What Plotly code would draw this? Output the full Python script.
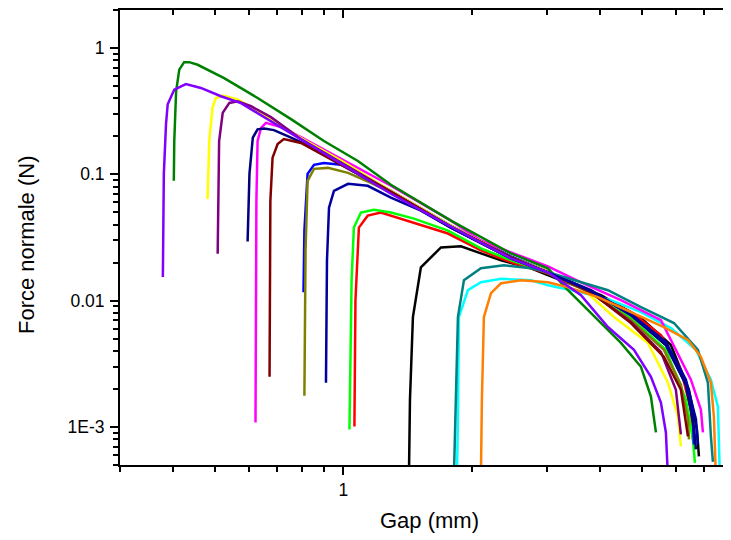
import math
import plotly.graph_objects as go

# ---- data (gap in mm, normal force in N) ----
black_gap = [1.425, 1.433, 1.456, 1.520, 1.694, 1.886, 2.101, 2.341, 2.752, 3.235, 4.014, 4.980, 5.853, 6.452, 6.734, 6.808]
black_force = [0.0004, 0.00165, 0.00742, 0.01836, 0.02638, 0.0269, 0.02366, 0.02084, 0.01803, 0.0145, 0.01105, 0.00728, 0.00446, 0.00197, 0.000956, 0.000586]

red_gap = [1.062, 1.068, 1.088, 1.141, 1.225, 1.464, 1.759, 2.101, 2.511, 3.016, 3.804, 4.718, 5.546, 6.177, 6.520, 6.592]
red_force = [0.00101, 0.01009, 0.0379, 0.0471, 0.0498, 0.0415, 0.0340, 0.02498, 0.01974, 0.01646, 0.01167, 0.00812, 0.00535, 0.00284, 0.00137, 0.000797]

lime_gap = [1.034, 1.042, 1.046, 1.059, 1.100, 1.180, 1.293, 1.464, 1.759, 2.101, 2.511, 3.016, 3.804, 4.718, 5.697, 6.347, 6.592, 6.663]
lime_force = [0.000956, 0.00408, 0.0145, 0.0379, 0.0498, 0.0525, 0.0498, 0.0446, 0.0359, 0.0259, 0.02046, 0.01677, 0.01167, 0.00728, 0.00408, 0.00165, 0.000797, 0.00052]

blue_gap = [0.807, 0.811, 0.825, 0.854, 0.901, 1.0, 1.293, 1.787, 2.470, 3.016, 3.804, 4.718, 5.697, 6.347, 6.592, 6.626]
blue_force = [0.01167, 0.0359, 0.1009, 0.1188, 0.1232, 0.1188, 0.0741, 0.0393, 0.0224, 0.01707, 0.01188, 0.00769, 0.00446, 0.00216, 0.00115, 0.000728]

cyan_gap = [1.846, 1.856, 1.866, 1.959, 2.101, 2.341, 2.752, 3.016, 3.604, 4.236, 4.980, 5.853, 6.699, 7.262, 7.542, 7.582, 7.623]
cyan_force = [0.0004, 0.00115, 0.00742, 0.0121, 0.01398, 0.0149, 0.0145, 0.01324, 0.01167, 0.01009, 0.00812, 0.00607, 0.00408, 0.00237, 0.00145, 0.000797, 0.0004]

magenta_gap = [0.623, 0.626, 0.630, 0.642, 0.659, 0.715, 0.796, 1.0, 1.293, 1.787, 2.101, 2.470, 3.016, 3.604, 4.470, 5.546, 6.520, 6.881, 6.956]
magenta_force = [0.001085, 0.0618, 0.1835, 0.2336, 0.2558, 0.2366, 0.1974, 0.130, 0.0812, 0.0430, 0.02996, 0.0241, 0.0187, 0.01398, 0.01009, 0.00702, 0.00237, 0.00137, 0.000905]

yellow_gap = [0.481, 0.4855, 0.494, 0.503, 0.522, 0.566, 0.642, 0.796, 1.0, 1.293, 1.787, 2.470, 3.016, 3.604, 4.305, 5.171, 5.760, 6.078, 6.177]
yellow_force = [0.0638, 0.1835, 0.336, 0.402, 0.420, 0.391, 0.305, 0.194, 0.1254, 0.0741, 0.0393, 0.0220, 0.01707, 0.01277, 0.00742, 0.00463, 0.00224, 0.00121, 0.000702]

darkyellow_gap = [0.811, 0.816, 0.825, 0.854, 0.921, 1.026, 1.161, 1.293, 1.787, 2.470, 3.016, 3.804, 4.718, 5.636, 6.177, 6.417, 6.452]
darkyellow_force = [0.00177, 0.02498, 0.0889, 0.1105, 0.1125, 0.1027, 0.0857, 0.0715, 0.0379, 0.0216, 0.01646, 0.01146, 0.00702, 0.00408, 0.00216, 0.00115, 0.000797]

navy_gap = [0.597, 0.603, 0.614, 0.630, 0.653, 0.688, 0.741, 0.796, 1.0, 1.293, 1.787, 2.470, 3.016, 3.804, 4.718, 5.697, 6.347, 6.626, 6.699]
navy_force = [0.0294, 0.1009, 0.195, 0.227, 0.231, 0.224, 0.201, 0.180, 0.1166, 0.0715, 0.0379, 0.0216, 0.01677, 0.01210, 0.00769, 0.00446, 0.00216, 0.00101, 0.000665]

purple_gap = [0.508, 0.512, 0.522, 0.541, 0.566, 0.608, 0.677, 0.796, 1.0, 1.293, 1.787, 2.470, 3.016, 3.804, 4.718, 5.546, 6.012, 6.177]
purple_force = [0.02353, 0.1835, 0.3066, 0.3676, 0.379, 0.346, 0.2837, 0.1904, 0.121, 0.0728, 0.0386, 0.0220, 0.01677, 0.01167, 0.00677, 0.00393, 0.00197, 0.000873]

wine_gap = [0.672, 0.675, 0.683, 0.702, 0.726, 0.766, 0.796, 1.0, 1.293, 1.787, 2.470, 3.016, 3.804, 4.718, 5.636, 6.177, 6.417]
wine_force = [0.0025, 0.0618, 0.1356, 0.1739, 0.1904, 0.1835, 0.177, 0.1166, 0.0728, 0.0386, 0.0220, 0.01677, 0.01167, 0.00665, 0.00359, 0.00197, 0.000842]

olive_gap = [0.401, 0.402, 0.406, 0.413, 0.424, 0.436, 0.456, 0.526, 0.630, 0.7544, 0.901, 1.082, 1.293, 1.787, 2.470, 3.016, 3.359, 3.950, 4.470, 4.980, 5.255, 5.399]
olive_force = [0.0889, 0.1835, 0.454, 0.674, 0.773, 0.773, 0.737, 0.578, 0.402, 0.2735, 0.1835, 0.1277, 0.0827, 0.0430, 0.02366, 0.01803, 0.0121, 0.00702, 0.00463, 0.002996, 0.001739, 0.000905]

darkcyan_gap = [1.816, 1.836, 1.856, 1.917, 2.101, 2.379, 2.752, 3.016, 3.604, 4.168, 4.980, 5.950, 6.771, 7.146, 7.262, 7.341]
darkcyan_force = [0.0004, 0.00165, 0.00742, 0.0145, 0.01803, 0.01904, 0.01803, 0.01677, 0.01398, 0.0121, 0.00889, 0.00665, 0.00408, 0.00224, 0.000842, 0.00053]

royal_gap = [0.911, 0.916, 0.926, 0.951, 1.026, 1.141, 1.293, 1.520, 1.787, 2.470, 3.016, 3.804, 4.718, 5.697, 6.347, 6.699, 6.771]
royal_force = [0.00224, 0.02084, 0.0545, 0.0741, 0.0842, 0.0812, 0.0653, 0.0516, 0.0379, 0.0216, 0.01677, 0.01188, 0.00783, 0.00471, 0.00237, 0.00115, 0.000728]

orange_gap = [2.101, 2.112, 2.135, 2.218, 2.341, 2.608, 3.016, 3.359, 3.950, 4.796, 5.636, 6.417, 6.881, 7.262, 7.380, 7.460]
orange_force = [0.0004, 0.00165, 0.00742, 0.01146, 0.01373, 0.0145, 0.01398, 0.01277, 0.01066, 0.00797, 0.00618, 0.00489, 0.00359, 0.00224, 0.00121, 0.0004]

violet_gap = [0.378, 0.380, 0.3845, 0.388, 0.402, 0.428, 0.464, 0.517, 0.576, 0.688, 0.827, 0.988, 1.293, 1.787, 2.470, 3.016, 3.604, 4.168, 4.796, 5.255, 5.546, 5.697, 5.760]
violet_force = [0.01539, 0.1009, 0.2497, 0.359, 0.469, 0.519, 0.483, 0.415, 0.366, 0.2543, 0.177, 0.121, 0.0702, 0.0386, 0.0216, 0.01677, 0.01105, 0.00618, 0.00408, 0.0025, 0.00156, 0.000905, 0.0004]

x_major_ticks = [1]
x_major_text = ["1"]
x_minor_ticks = [0.3, 0.4, 0.5, 0.6, 0.7, 0.8, 0.9, 2, 3, 4, 5, 6, 7, 8, 9]
y_major_ticks = [0.001, 0.01, 0.1, 1]
y_major_text = ["1E-3", "0.01", "0.1", "1"]
y_minor_ticks = [m * d for d in (0.0001, 0.001, 0.01, 0.1, 1) for m in range(2, 10)]

x_range = [0.3, 8.27]
y_range = [5e-4, 2]

series = [
    (black_gap, black_force, "#000000"),
    (red_gap, red_force, "#FF0000"),
    (lime_gap, lime_force, "#00FF00"),
    (blue_gap, blue_force, "#0000FF"),
    (cyan_gap, cyan_force, "#00FFFF"),
    (magenta_gap, magenta_force, "#FF00FF"),
    (yellow_gap, yellow_force, "#FFFF00"),
    (darkyellow_gap, darkyellow_force, "#808000"),
    (navy_gap, navy_force, "#000080"),
    (purple_gap, purple_force, "#800080"),
    (wine_gap, wine_force, "#800000"),
    (olive_gap, olive_force, "#008000"),
    (darkcyan_gap, darkcyan_force, "#008080"),
    (royal_gap, royal_force, "#0000A0"),
    (orange_gap, orange_force, "#FF8000"),
    (violet_gap, violet_force, "#8000FF"),
]

xr = [math.log10(v) for v in x_range]
yr = [math.log10(v) for v in y_range]

fig = go.Figure()
for gx, fy, col in series:
    fig.add_trace(go.Scatter(x=gx, y=fy, mode="lines",
                             line=dict(color=col, width=2.5),
                             showlegend=False, hoverinfo="skip"))

# invisible trace to bind the mirror axes
fig.add_trace(go.Scatter(x=[1], y=[0.01], xaxis="x2", yaxis="y2", mode="markers",
                         marker=dict(opacity=0), showlegend=False, hoverinfo="skip"))

FONT = "Liberation Sans, Arial, sans-serif"

fig.update_layout(
    width=731, height=540,
    margin=dict(l=112, r=4, t=0, b=83),
    paper_bgcolor="white", plot_bgcolor="white",
    font=dict(family=FONT, color="black"),
    xaxis=dict(type="log", range=xr, autorange=False,
               showgrid=False, zeroline=False,
               showline=True, linecolor="black", linewidth=2, mirror=True,
               ticks="outside", ticklen=8, tickwidth=2, tickcolor="black",
               tickmode="array", tickvals=x_major_ticks, ticktext=x_major_text,
               tickfont=dict(size=17.5, family=FONT, color="black"),
               ticklabelstandoff=0,
               minor=dict(tickmode="array", tickvals=x_minor_ticks, ticks="outside",
                          ticklen=5, tickwidth=2, tickcolor="black", showgrid=False)),
    yaxis=dict(type="log", range=yr, autorange=False,
               showgrid=False, zeroline=False,
               showline=True, linecolor="black", linewidth=2, mirror=True,
               ticks="outside", ticklen=8, tickwidth=2, tickcolor="black",
               tickmode="array", tickvals=y_major_ticks, ticktext=y_major_text,
               tickfont=dict(size=17.5, family=FONT, color="black"),
               ticklabelstandoff=2,
               minor=dict(tickmode="array", tickvals=y_minor_ticks, ticks="outside",
                          ticklen=5, tickwidth=2, tickcolor="black", showgrid=False)),
    xaxis2=dict(type="log", range=xr, autorange=False, overlaying="x", side="top",
                showgrid=False, zeroline=False, showline=False, showticklabels=False,
                ticks="inside", ticklen=8, tickwidth=2, tickcolor="black",
                tickmode="array", tickvals=x_major_ticks,
                minor=dict(tickmode="array", tickvals=x_minor_ticks, ticks="inside",
                           ticklen=5, tickwidth=2, tickcolor="black", showgrid=False)),
    yaxis2=dict(type="log", range=yr, autorange=False, overlaying="y", side="right",
                showgrid=False, zeroline=False, showline=False, showticklabels=False,
                ticks="inside", ticklen=8, tickwidth=2, tickcolor="black",
                tickmode="array", tickvals=y_major_ticks,
                minor=dict(tickmode="array", tickvals=y_minor_ticks, ticks="inside",
                           ticklen=5, tickwidth=2, tickcolor="black", showgrid=False)),
    annotations=[
        dict(text="Gap (mm)", xref="paper", yref="paper", x=0.504, y=-0.1225,
             xanchor="center", yanchor="middle", showarrow=False,
             font=dict(size=22, family=FONT, color="black")),
        dict(text="Force normale (N)", xref="paper", yref="paper", x=-0.1512, y=0.4836,
             xanchor="center", yanchor="middle", textangle=-90, showarrow=False,
             font=dict(size=22, family=FONT, color="black")),
    ],
)

fig.write_html("out.html")
